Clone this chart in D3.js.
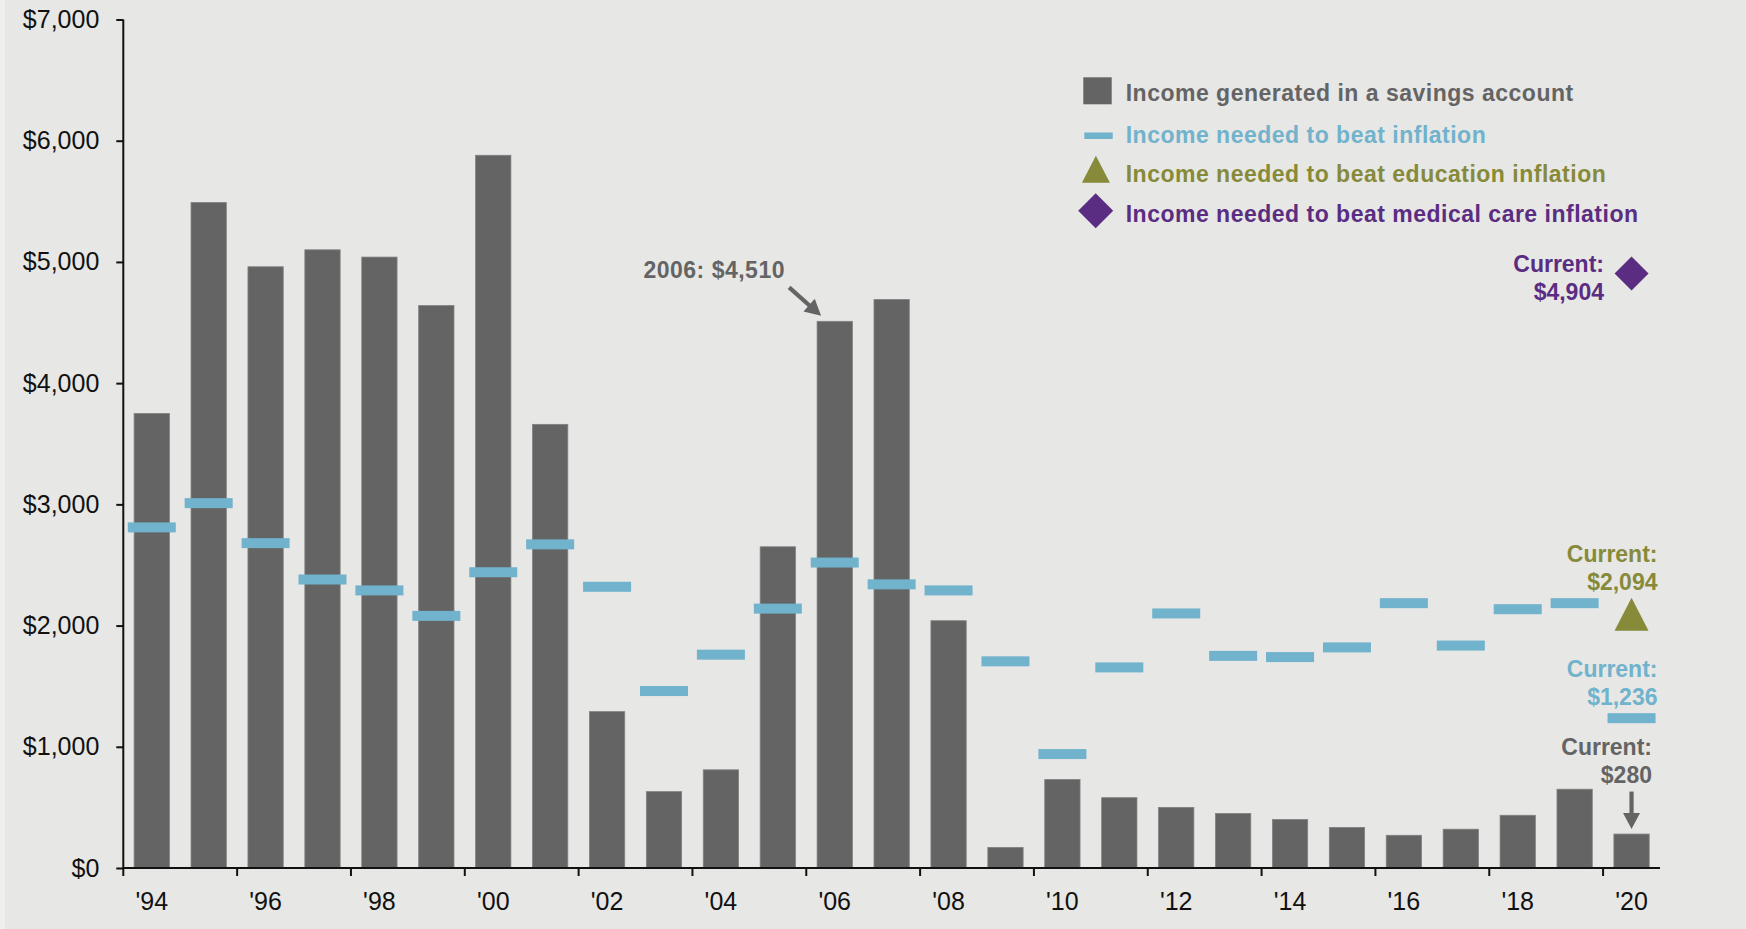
<!DOCTYPE html>
<html>
<head>
<meta charset="utf-8">
<script src="https://cdn.jsdelivr.net/npm/d3@7/dist/d3.min.js"></script>
<style>
  html, body { margin: 0; padding: 0; background: #e7e7e5; }
  svg { display: block; font-family: "Liberation Sans", Arial, sans-serif; }
</style>
</head>
<body>
<svg id="chart" width="1746" height="929"></svg>
<script>
// ---- data ----
const years = [1994,1995,1996,1997,1998,1999,2000,2001,2002,2003,2004,2005,2006,2007,2008,2009,2010,2011,2012,2013,2014,2015,2016,2017,2018,2019,2020];
const savingsIncome = [3750,5490,4960,5100,5040,4640,5880,3660,1290,630,810,2650,4510,4690,2040,170,730,580,500,450,400,335,270,320,435,650,280];
const inflationIncome = [2810,3010,2680,2380,2290,2080,2440,2670,2320,1460,1760,2140,2520,2340,2290,1705,940,1655,2100,1750,1740,1820,2185,1835,2135,2185,1236];
const educationCurrent = [{year: 2020, value: 2094}];
const medicalCurrent = [{year: 2020, value: 4904}];
const yTicks = [0,1000,2000,3000,4000,5000,6000,7000];
const xTickYears = [1994,1996,1998,2000,2002,2004,2006,2008,2010,2012,2014,2016,2018,2020];
const legendItems = [
  {key: "savings", label: "Income generated in a savings account"},
  {key: "inflation", label: "Income needed to beat inflation"},
  {key: "education", label: "Income needed to beat education inflation"},
  {key: "medical", label: "Income needed to beat medical care inflation"}
];

(function () {
// ---- style ----
const C = {
  bg: "#e7e7e5", bar: "#646464", barStroke: "#808080",
  blue: "#71b2cc", olive: "#868a39", purple: "#5a2d82", grey: "#646464", axis: "#111"
};

const svg = d3.select("#chart");
svg.append("rect").attr("width", 1746).attr("height", 929).attr("fill", C.bg);
svg.append("rect").attr("width", 5).attr("height", 929).attr("fill", "#efefed");

const mL = 123.3, mR = 1660, mT = 19.5, mB = 868;
const x = d3.scaleBand().domain(years).range([mL, mR]).paddingInner(0.38).paddingOuter(0.19);
const y = d3.scaleLinear().domain([0, 7000]).range([mB, mT]);
const step = x.step(), bw = x.bandwidth();
const cx = yr => x(yr) + bw / 2;

// bars
svg.append("g").selectAll("rect").data(years).join("rect")
  .attr("x", d => x(d)).attr("width", bw)
  .attr("y", (d, i) => y(savingsIncome[i]))
  .attr("height", (d, i) => y(0) - y(savingsIncome[i]))
  .attr("fill", C.bar).attr("stroke", C.barStroke).attr("stroke-width", 0.8);

// inflation dashes
const dashW = 48, dashH = 10;
svg.append("g").selectAll("rect").data(years).join("rect")
  .attr("x", d => cx(d) - dashW / 2).attr("width", dashW)
  .attr("y", (d, i) => y(inflationIncome[i]) - dashH / 2).attr("height", dashH)
  .attr("fill", C.blue);

// triangle / diamond path helpers
const triPath = (w, h) => `M0,${-h/2}L${w/2},${h/2}L${-w/2},${h/2}Z`;
const diaPath = (w, h) => `M0,${-h/2}L${w/2},0L0,${h/2}L${-w/2},0Z`;

svg.append("g").selectAll("path").data(educationCurrent).join("path")
  .attr("transform", d => `translate(${cx(d.year)},${y(d.value)})`)
  .attr("d", triPath(34, 33)).attr("fill", C.olive);
svg.append("g").selectAll("path").data(medicalCurrent).join("path")
  .attr("transform", d => `translate(${cx(d.year)},${y(d.value)})`)
  .attr("d", diaPath(34, 34)).attr("fill", C.purple);

// y axis
const yAxis = svg.append("g").attr("transform", `translate(${mL},0)`)
  .call(d3.axisLeft(y).tickValues(yTicks).tickSize(7).tickPadding(17)
    .tickFormat(d => "$" + d3.format(",")(d)));
yAxis.select(".domain").attr("stroke", C.axis).attr("stroke-width", 2).attr("d", `M0,${mT}V${mB}`);
yAxis.selectAll(".tick line").attr("stroke", C.axis).attr("stroke-width", 2);
yAxis.selectAll(".tick text").attr("font-size", 25).attr("fill", "#111")
  .attr("font-family", "Liberation Sans, Arial, sans-serif");

// x axis
const xAxis = svg.append("g").attr("transform", `translate(0,${mB})`)
  .call(d3.axisBottom(x).tickValues(xTickYears).tickSize(0).tickPadding(24)
    .tickFormat(d => "'" + String(d).slice(2)));
xAxis.select(".domain").attr("stroke", C.axis).attr("stroke-width", 2).attr("d", `M${mL},0H${mR}`);
xAxis.selectAll(".tick text").attr("font-size", 25).attr("fill", "#111")
  .attr("font-family", "Liberation Sans, Arial, sans-serif");
xAxis.append("g").selectAll("line").data(xTickYears).join("line")
  .attr("x1", d => x(d) - (step - bw) / 2).attr("x2", d => x(d) - (step - bw) / 2)
  .attr("y1", 0).attr("y2", 8).attr("stroke", C.axis).attr("stroke-width", 2);

// legend
const lg = svg.append("g").attr("font-weight", "bold").attr("font-size", 23).attr("letter-spacing", 0.5);
const legendColors = {savings: C.grey, inflation: C.blue, education: C.olive, medical: C.purple};
const legendBaselines = [100.7, 143.3, 181.7, 221.7];
legendItems.forEach((it, i) => {
  lg.append("text").attr("x", 1125.7).attr("y", legendBaselines[i]).attr("fill", legendColors[it.key]).text(it.label);
});
lg.append("rect").attr("x", 1083.3).attr("y", 77.3).attr("width", 28.4).attr("height", 27).attr("fill", C.bar);
lg.append("rect").attr("x", 1084.3).attr("y", 132.5).attr("width", 28.4).attr("height", 6.5).attr("fill", C.blue);
lg.append("path").attr("transform", "translate(1095.9,169.2)").attr("d", triPath(28, 27)).attr("fill", C.olive);
lg.append("path").attr("transform", "translate(1095.7,210.8)").attr("d", diaPath(35, 35)).attr("fill", C.purple);

// annotations
const ann = svg.append("g").attr("font-weight", "bold").attr("font-size", 23).attr("text-anchor", "end");
function twoLine(xEnd, y1, y2, color, l1, l2) {
  ann.append("text").attr("x", xEnd).attr("y", y1).attr("fill", color).text(l1);
  ann.append("text").attr("x", xEnd).attr("y", y2).attr("fill", color).text(l2);
}
const i06 = years.indexOf(2006), i20 = years.indexOf(2020);
ann.append("text").attr("x", 785).attr("y", 278.3).attr("fill", C.grey).attr("letter-spacing", 0.5)
  .text("2006: $" + d3.format(",")(savingsIncome[i06]));
twoLine(1604, 271.7, 300, C.purple, "Current:", "$" + d3.format(",")(medicalCurrent[0].value));
twoLine(1657.5, 561.7, 590, C.olive, "Current:", "$" + d3.format(",")(educationCurrent[0].value));
twoLine(1657.5, 676.7, 705, C.blue, "Current:", "$" + d3.format(",")(inflationIncome[i20]));
twoLine(1652, 755, 783.3, C.grey, "Current:", "$" + d3.format(",")(savingsIncome[i20]));

// arrows
function arrow(x0, y0, x1, y1, color) {
  const dx = x1 - x0, dy = y1 - y0, L = Math.hypot(dx, dy);
  const ux = dx / L, uy = dy / L, hl = 16, hw = 8.5;
  const bx = x1 - ux * hl, by = y1 - uy * hl;
  svg.append("line").attr("x1", x0).attr("y1", y0).attr("x2", bx + ux * 2).attr("y2", by + uy * 2)
    .attr("stroke", color).attr("stroke-width", 4.2);
  svg.append("path").attr("d", `M${x1},${y1}L${bx - uy * hw},${by + ux * hw}L${bx + uy * hw},${by - ux * hw}Z`)
    .attr("fill", color);
}
const tx = x(2006) + 4, ty = y(savingsIncome[i06]) - 5.5;
arrow(tx - 32, ty - 28.4, tx, ty, C.grey);
const ax = cx(2020), ay = y(savingsIncome[i20]) - 5;
arrow(ax, ay - 37.5, ax, ay, C.grey);
})();
</script>
</body>
</html>
